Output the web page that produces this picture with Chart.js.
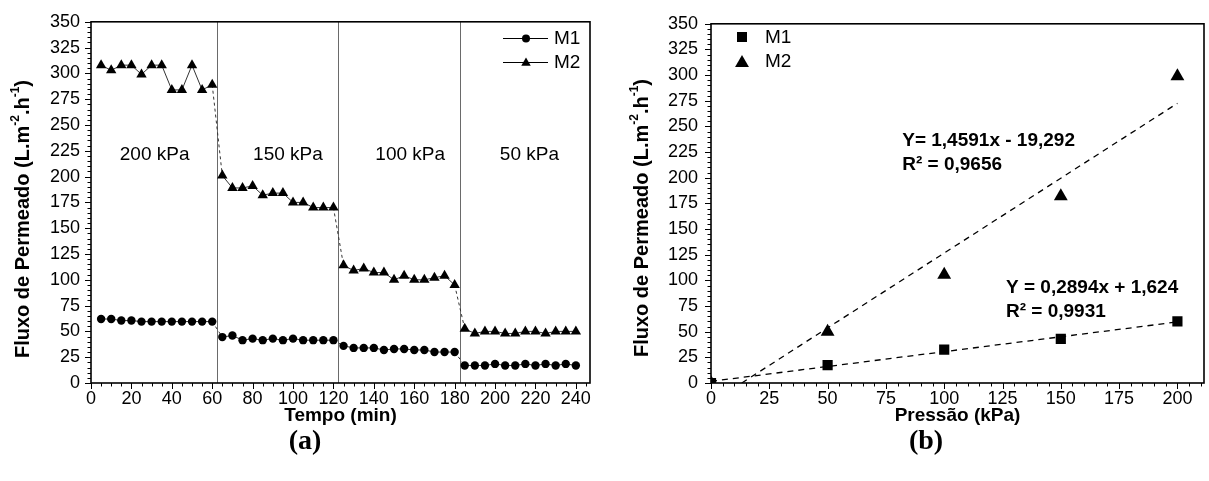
<!DOCTYPE html>
<html>
<head>
<meta charset="utf-8">
<script src="https://cdn.jsdelivr.net/npm/chart.js@4.4.1/dist/chart.umd.min.js"></script>
<style>
html,body{margin:0;padding:0;background:#fff;overflow:hidden;width:1209px;height:481px;}
.box{position:absolute;top:0;height:481px;}
#wa{left:0;width:600px;}
#wb{left:600px;width:612px;}
.cap{position:absolute;font-family:"Liberation Serif","Times New Roman",serif;font-weight:bold;font-size:28px;line-height:32px;top:424px;transform:translateX(-50%);color:#000;}
#capA{left:305px;}
#capB{left:926px;}
</style>
</head>
<body>
<div class="box" id="wa"><canvas id="ca" width="600" height="481"></canvas></div>
<div class="box" id="wb"><canvas id="cb" width="612" height="481"></canvas></div>
<div class="cap" id="capA">(a)</div>
<div class="cap" id="capB">(b)</div>
<script>
// ---------------- DATA ----------------
// (a) Flux vs time
const timeMin = [5,10,15,20,25,30,35,40,45,50,55,60,
                 65,70,75,80,85,90,95,100,105,110,115,120,
                 125,130,135,140,145,150,155,160,165,170,175,180,
                 185,190,195,200,205,210,215,220,225,230,235,240];
const fluxTimeM1 = [62,62,60.5,60.5,59.5,59.5,59.5,59.5,59.5,59.5,59.5,59.5,
                    44.5,46,41.5,43,41.5,43,41.5,43,41.5,41.5,41.5,41.5,
                    36,34,34,34,32,33,33,32,32,30,30,30,
                    17,17,17,18.5,17,17,18.5,17,18.5,17,18.5,17];
const fluxTimeM2 = [308,303,308,308,299,308,308,284,284,308,284,289,
                    201,189,189,191,182,184,184,175,175,170,170,170,
                    114,109,111,107,107,100,104,100,100,102,104,95,
                    52.5,48,50,50,48,48,50,50,48,50,50,50];
const stageBounds = [62.5,122.5,182.5];
const stageLabels = ['200 kPa','150 kPa','100 kPa','50 kPa'];
const timeTicks = [0,20,40,60,80,100,120,140,160,180,200,220,240];
const fluxTicks = [0,25,50,75,100,125,150,175,200,225,250,275,300,325,350];

// (b) Flux vs pressure
const pressureKPa = [0,50,100,150,200];
const fluxPressM1 = [0,17.5,32.5,43,60];
const fluxPressM2 = [0,50,105.5,182,299];
const fitLineM1X = [0,200];
const fitLineM1Y = [1.6,59.5];
const fitLineM2X = [13.2,200];
const fitLineM2Y = [0,272.5];
const fitTextM1 = ['Y = 0,2894x + 1,624','R\u00b2 = 0,9931'];
const fitTextM2 = ['Y= 1,4591x - 19,292','R\u00b2 = 0,9656'];
const pressTicks = [0,25,50,75,100,125,150,175,200];

// ---------------- STYLE / LAYOUT ----------------
const FAM = '"Liberation Sans", Arial, Helvetica, sans-serif';
Chart.defaults.font.family = FAM;
Chart.defaults.color = '#000';
const stageLabelPos = {x:[31.5,97.5,158,217], y:221};
const fitTextPos = {m2:{x:82,y:[236.5,212.5]}, m1:{x:126.5,y:[92.5,69.5]}};

function pts(xs, ys){ return xs.map((x,i)=>({x:x, y:ys[i]})); }

function drawTri(ctx,x,y,r){
  ctx.beginPath();
  ctx.moveTo(x, y - r);
  ctx.lineTo(x + r*0.866, y + r*0.5);
  ctx.lineTo(x - r*0.866, y + r*0.5);
  ctx.closePath(); ctx.fill();
}

function drawYTitle(ctx, cx, cy){
  const big = 'bold 20px ' + FAM, small = 'bold 12px ' + FAM;
  const parts = [['Fluxo de Permeado (L.m',0],['-2',1],['.h',0],['-1',1],[')',0]];
  let total = 0;
  parts.forEach(p=>{ ctx.font = p[1]?small:big; p.push(ctx.measureText(p[0]).width); total += p[2]; });
  ctx.save();
  ctx.translate(cx, cy); ctx.rotate(-Math.PI/2);
  ctx.fillStyle = '#000'; ctx.textBaseline = 'middle'; ctx.textAlign = 'left';
  let x = -total/2;
  parts.forEach(p=>{ ctx.font = p[1]?small:big; ctx.fillText(p[0], x, p[1]? -7 : 0); x += p[2]; });
  ctx.restore();
}

function drawMinorTicks(chart, xStep, yStep){
  const ctx = chart.ctx, a = chart.chartArea, xs = chart.scales.x, ys = chart.scales.y;
  const majX = new Set(xs.ticks.map(t=>t.value)), majY = new Set(ys.ticks.map(t=>t.value));
  ctx.save(); ctx.strokeStyle = '#000'; ctx.lineWidth = 1;
  for (let v = Math.ceil(xs.min); v <= xs.max + 1e-6; v += xStep){
    const px = Math.round(xs.getPixelForValue(v)) + 0.5;
    const len = majX.has(v) ? 6 : 3.5;
    ctx.beginPath(); ctx.moveTo(px, a.bottom); ctx.lineTo(px, a.bottom + len); ctx.stroke();
  }
  for (let v = ys.min; v <= ys.max + 1e-6; v += yStep){
    const py = Math.round(ys.getPixelForValue(v)) + 0.5;
    const len = majY.has(v) ? 6 : 3.5;
    ctx.beginPath(); ctx.moveTo(a.left, py); ctx.lineTo(a.left - len, py); ctx.stroke();
  }
  ctx.restore();
}

function frame(chart){
  const ctx = chart.ctx, a = chart.chartArea;
  ctx.save(); ctx.strokeStyle = '#000'; ctx.lineWidth = 1.6;
  ctx.strokeRect(a.left, a.top, a.right - a.left, a.bottom - a.top);
  ctx.restore();
}

function crossesStage(c){
  return stageBounds.some(b => c.p0.parsed.x < b && c.p1.parsed.x > b);
}

function baseScales(xMin, xMax, xTicksArr, xTitle, yWidth, xHeight, yPad){
  return {
    x: {
      type:'linear', min:xMin, max:xMax,
      afterBuildTicks: s => { s.ticks = xTicksArr.map(v=>({value:v})); },
      afterFit: s => { s.height = xHeight; },
      grid:{display:false, drawTicks:false}, border:{display:false},
      ticks:{padding:5, font:{size:18}, color:'#000', maxRotation:0, autoSkip:false},
      title:{display:true, text:xTitle, font:{size:19, weight:'bold'}, color:'#000', padding:{top:0,bottom:54}}
    },
    y: {
      type:'linear', min:0, max:350,
      afterBuildTicks: s => { s.ticks = fluxTicks.map(v=>({value:v})); },
      afterFit: s => { s.width = yWidth; },
      grid:{display:false, drawTicks:false}, border:{display:false},
      ticks:{padding:yPad, font:{size:18}, color:'#000', autoSkip:false}
    }
  };
}

// ---------------- CHART (a) ----------------
const decorA = {
  id:'decorA',
  beforeDatasetsDraw(chart){
    const ctx = chart.ctx, a = chart.chartArea, xs = chart.scales.x, ys = chart.scales.y;
    ctx.save(); ctx.strokeStyle = '#6a6a6a'; ctx.lineWidth = 1;
    stageBounds.forEach(b=>{
      const px = Math.round(xs.getPixelForValue(b)) + 0.5;
      ctx.beginPath(); ctx.moveTo(px, a.top); ctx.lineTo(px, a.bottom); ctx.stroke();
    });
    ctx.fillStyle = '#000'; ctx.font = '19px ' + FAM; ctx.textAlign = 'center'; ctx.textBaseline = 'middle';
    stageLabels.forEach((t,i)=>{
      ctx.fillText(t, xs.getPixelForValue(stageLabelPos.x[i]), ys.getPixelForValue(stageLabelPos.y));
    });
    ctx.restore();
  },
  afterDraw(chart){
    const ctx = chart.ctx;
    frame(chart);
    drawMinorTicks(chart, 5, 5);
    drawYTitle(ctx, 23, 219);
    // legend
    ctx.save();
    const ly = [38, 62];
    ctx.strokeStyle = '#000'; ctx.fillStyle = '#000'; ctx.lineWidth = 1;
    ly.forEach((y,i)=>{
      ctx.beginPath(); ctx.moveTo(503, y + 0.5); ctx.lineTo(548, y + 0.5); ctx.stroke();
      if (i === 0){ ctx.beginPath(); ctx.arc(526, y + 0.5, 4, 0, Math.PI*2); ctx.fill(); }
      else drawTri(ctx, 526, y + 1, 5.5);
    });
    ctx.font = '19px ' + FAM; ctx.textBaseline = 'middle'; ctx.textAlign = 'left';
    ctx.fillText('M1', 554, ly[0] + 1);
    ctx.fillText('M2', 554, ly[1] + 1);
    ctx.restore();
  }
};

new Chart(document.getElementById('ca'), {
  type:'line',
  data:{
    datasets:[
      {label:'M1', data:pts(timeMin, fluxTimeM1), borderColor:'#333', borderWidth:1,
       pointStyle:'circle', pointRadius:4.2, pointBackgroundColor:'#000', pointBorderWidth:0,
       segment:{borderDash: c => crossesStage(c) ? [3,3] : undefined}},
      {label:'M2', data:pts(timeMin, fluxTimeM2), borderColor:'#333', borderWidth:1,
       pointStyle:'triangle', pointRadius:6, pointBackgroundColor:'#000', pointBorderWidth:0,
       segment:{borderDash: c => crossesStage(c) ? [3,3] : undefined}}
    ]
  },
  options:{
    responsive:false, animation:false,
    layout:{padding:{left:0, top:18, right:10, bottom:0}},
    plugins:{legend:{display:false}, tooltip:{enabled:false}},
    scales: baseScales(0, 247, timeTicks, 'Tempo (min)', 91, 98, 11)
  },
  plugins:[decorA]
});

// ---------------- CHART (b) ----------------
const decorB = {
  id:'decorB',
  afterDraw(chart){
    const ctx = chart.ctx, xs = chart.scales.x, ys = chart.scales.y;
    frame(chart);
    drawMinorTicks(chart, 5, 5);
    drawYTitle(ctx, 42, 218);
    ctx.save();
    ctx.fillStyle = '#000';
    // legend
    ctx.fillRect(137, 32, 10, 10);
    drawTri(ctx, 142, 63, 8);
    ctx.font = '19px ' + FAM; ctx.textBaseline = 'middle'; ctx.textAlign = 'left';
    ctx.fillText('M1', 165, 38);
    ctx.fillText('M2', 165, 62);
    // equations
    ctx.font = 'bold 19px ' + FAM;
    fitTextM2.forEach((t,i)=> ctx.fillText(t, xs.getPixelForValue(fitTextPos.m2.x), ys.getPixelForValue(fitTextPos.m2.y[i])));
    fitTextM1.forEach((t,i)=> ctx.fillText(t, xs.getPixelForValue(fitTextPos.m1.x), ys.getPixelForValue(fitTextPos.m1.y[i])));
    ctx.restore();
  }
};

new Chart(document.getElementById('cb'), {
  type:'scatter',
  data:{
    datasets:[
      {label:'M1', data:pts(pressureKPa, fluxPressM1), pointStyle:'rect', pointRadius:7.2,
       pointBackgroundColor:'#000', pointBorderWidth:0, showLine:false, clip:0},
      {label:'M2', data:pts(pressureKPa, fluxPressM2), pointStyle:'triangle', pointRadius:8,
       pointBackgroundColor:'#000', pointBorderWidth:0, showLine:false, clip:0},
      {label:'fitM1', type:'line', data:pts(fitLineM1X, fitLineM1Y), borderColor:'#000', borderWidth:1.3,
       borderDash:[6,5], pointRadius:0},
      {label:'fitM2', type:'line', data:pts(fitLineM2X, fitLineM2Y), borderColor:'#000', borderWidth:1.3,
       borderDash:[6,5], pointRadius:0}
    ]
  },
  options:{
    responsive:false, animation:false,
    layout:{padding:{left:0, top:16, right:0, bottom:0}},
    plugins:{legend:{display:false}, tooltip:{enabled:false}},
    scales: baseScales(0, 211.4, pressTicks, 'Press\u00e3o (kPa)', 111, 98, 13)
  },
  plugins:[decorB]
});
</script>
</body>
</html>
